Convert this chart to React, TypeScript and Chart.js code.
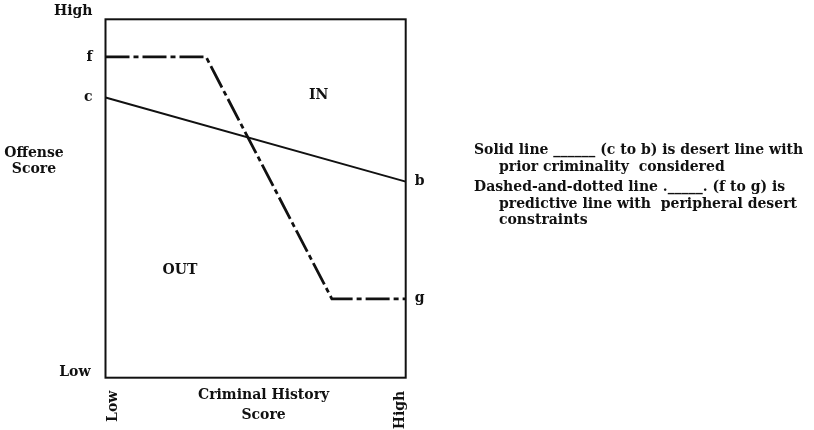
import React, { useEffect, useRef } from "react";
import { Chart, registerables } from "chart.js";

Chart.register(...registerables);

// Data (abstract 0–10 scale, Low → High)
const axisTickLabels = ["Low", "High"];
const solidX = [0, 10];
const solidY = [7.82, 5.47]; // c → b
const dashX = [0, 3.35, 7.54, 10];
const dashY = [8.95, 8.95, 2.2, 2.2]; // f → g
const pointLabels = [
  { t: "f", side: "left", y: 8.95 },
  { t: "c", side: "left", y: 7.82 },
  { t: "b", side: "right", y: 5.47 },
  { t: "g", side: "right", y: 2.2 },
];
const regionLabels = [
  { t: "IN", x: 7.1, y: 7.88 },
  { t: "OUT", x: 2.48, y: 3.0 },
];
const yTitle = ["Offense", "Score"];
const xTitle = ["Criminal History", "Score"];
const legendLines = [
  { t: "Solid line ______ (c to b) is desert line with", indent: 0 },
  { t: "prior criminality  considered", indent: 1 },
  { t: "Dashed-and-dotted line ._____. (f to g) is", indent: 0 },
  { t: "predictive line with  peripheral desert", indent: 1 },
  { t: "constraints", indent: 1 },
];

const FONT = '"DejaVu Serif", serif';

const overlay = {
  id: "overlay",
  afterDraw(chart: any) {
    const { ctx, chartArea: a, scales } = chart;
    const xs = scales.x;
    const ys = scales.y;
    ctx.save();
    ctx.strokeStyle = "#111";
    ctx.lineWidth = 2;
    ctx.strokeRect(a.left, a.top, a.right - a.left, a.bottom - a.top);

    ctx.fillStyle = "#111";
    ctx.font = `bold 14px ${FONT}`;
    ctx.textBaseline = "middle";

    // y-axis end labels
    ctx.textAlign = "right";
    ctx.fillText(axisTickLabels[1], a.left - 13, ys.getPixelForValue(10) - 8);
    ctx.fillText(axisTickLabels[0], a.left - 15, ys.getPixelForValue(0) - 5);

    // point labels
    pointLabels.forEach((p) => {
      const py = ys.getPixelForValue(p.y);
      if (p.side === "left") {
        ctx.textAlign = "right";
        ctx.fillText(p.t, a.left - 13, py);
      } else {
        ctx.textAlign = "left";
        ctx.fillText(p.t, a.right + 9, py);
      }
    });

    // region labels
    ctx.textAlign = "center";
    regionLabels.forEach((r) => {
      ctx.fillText(r.t, xs.getPixelForValue(r.x), ys.getPixelForValue(r.y));
    });

    // y title
    yTitle.forEach((t, i) => ctx.fillText(t, 34, 153 + i * 16));

    // x title
    xTitle.forEach((t, i) => ctx.fillText(t, (a.left + a.right) / 2 + 8, a.bottom + 18 + i * 20));

    // rotated x end labels
    const rot = (t: string, x: number) => {
      ctx.save();
      ctx.translate(x, a.bottom + 13);
      ctx.rotate(-Math.PI / 2);
      ctx.textAlign = "right";
      ctx.fillText(t, 0, 0);
      ctx.restore();
    };
    rot(axisTickLabels[0], xs.getPixelForValue(0) + 8);
    rot(axisTickLabels[1], xs.getPixelForValue(10) - 5);

    // legend text
    ctx.textAlign = "left";
    const lx = 474;
    const lys = [150, 167, 187, 204, 220];
    legendLines.forEach((l, i) => {
      ctx.fillText(l.t, lx + l.indent * 25, lys[i]);
    });

    ctx.restore();
  },
};

export default function App() {
  const ref = useRef<HTMLCanvasElement | null>(null);
  useEffect(() => {
    document.body.style.margin = "0";
    const chart = new Chart(ref.current!, {
      type: "scatter",
      data: {
        datasets: [
          {
            data: solidX.map((x, i) => ({ x, y: solidY[i] })),
            showLine: true,
            borderColor: "#111",
            borderWidth: 2,
            pointRadius: 0,
          },
          {
            data: dashX.map((x, i) => ({ x, y: dashY[i] })),
            showLine: true,
            borderColor: "#111",
            borderWidth: 2.8,
            borderDash: [24, 4, 5, 4],
            pointRadius: 0,
          },
        ],
      },
      options: {
        animation: false,
        responsive: false,
        layout: { padding: { left: 105.5, right: 408.3, top: 19.3, bottom: 52.3 } },
        plugins: { legend: { display: false }, tooltip: { enabled: false } },
        scales: {
          x: { type: "linear", min: 0, max: 10, display: false },
          y: { type: "linear", min: 0, max: 10, display: false },
        },
      },
      plugins: [overlay],
    });
    return () => chart.destroy();
  }, []);
  return (
    <div style={{ position: "absolute", left: 0, top: 0, width: 814, height: 430, background: "#fff" }}>
      <canvas ref={ref} width={814} height={430} />
    </div>
  );
}
